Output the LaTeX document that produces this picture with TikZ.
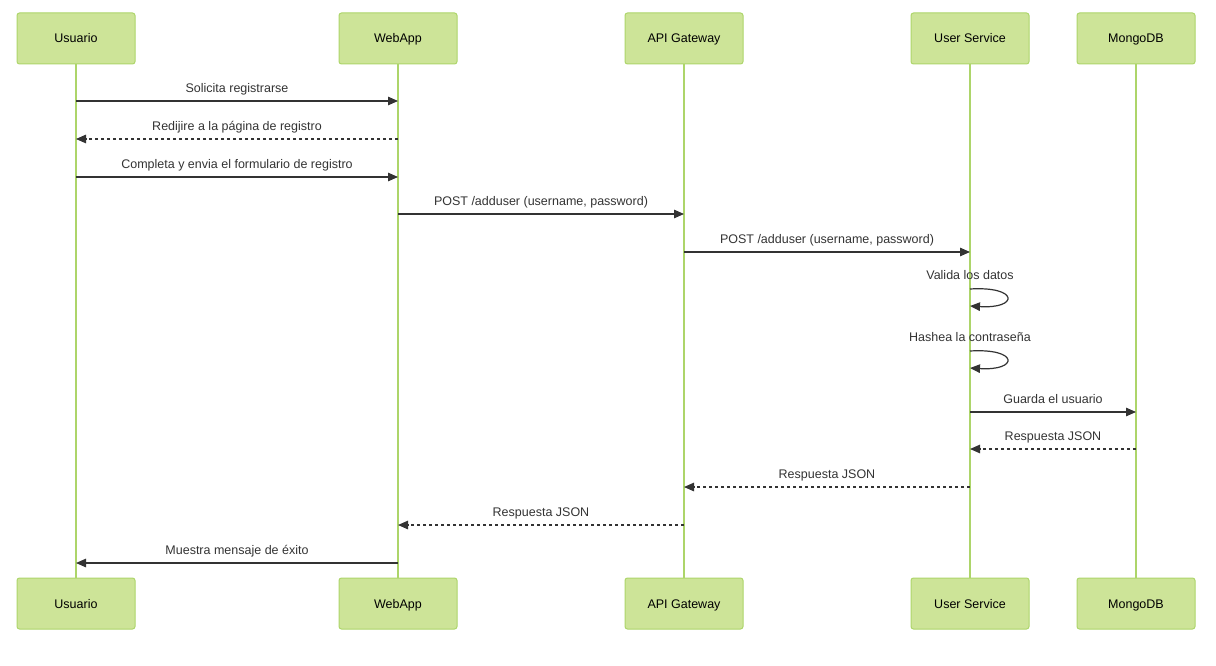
\documentclass[tikz,border=0pt]{standalone}
\usepackage{fontspec}
\setmainfont{Liberation Sans}
\usetikzlibrary{arrows.meta}
\definecolor{actfill}{HTML}{CDE498}
\definecolor{actline}{HTML}{ADD56A}
\definecolor{ink}{HTML}{333333}
\tikzset{
  actor/.style={draw=actline, fill=actfill, line width=1pt, rounded corners=2.5pt,
    minimum width=118pt, minimum height=51pt, inner sep=0pt,
    text height=9.5pt, text depth=0.5pt,
    font=\fontsize{12.5}{14}\selectfont, text=black},
  life/.style={draw=actline, line width=1.5pt},
  msg/.style={draw=ink, line width=1.2pt, -{Triangle[length=10pt,width=8.5pt]}},
  reply/.style={msg, dash pattern=on 3pt off 3pt},
  lbl/.style={font=\fontsize{12.5}{14}\selectfont, text=ink, inner sep=0pt},
  mlbl/.style={lbl, anchor=base, yshift=8.5pt}
}
\begin{document}
\begin{tikzpicture}[x=1pt,y=-1pt]
\useasboundingbox (0,0) rectangle (1216,666);
% participants
\foreach \n/\x/\t in {u/76/Usuario, w/398/WebApp, g/684/API Gateway, s/970/User Service, m/1136/MongoDB}{
  \node[actor] (\n t) at (\x,38.5) {\t};
  \node[actor] (\n b) at (\x,603.5) {\t};
  \draw[life] (\n t.south) -- (\n b.north);
}
% message rows
\foreach \k/\y in {1/101,2/139,3/177,4/214,5/252,6/412,7/449,8/487,9/525,10/563,la/289,lb/306,lc/351,ld/368}{
  \coordinate (r\k) at (0,\y);
}
\draw[msg] (ut|-r1) -- node[mlbl] {Solicita registrarse} (wt|-r1);
\draw[reply] (wt|-r2) -- node[mlbl] {Redijire a la página de registro} (ut|-r2);
\draw[msg] (ut|-r3) -- node[mlbl] {Completa y envia el formulario de registro} (wt|-r3);
\draw[msg] (wt|-r4) -- node[mlbl] {POST /adduser (username, password)} (gt|-r4);
\draw[msg] (gt|-r5) -- node[mlbl] {POST /adduser (username, password)} (st|-r5);
% self loops
\node[lbl, anchor=base] (v1) at (970,279) {Valida los datos};
\draw[msg] (st|-rla) .. controls (1019,286) and (1019,309) .. (st|-rlb);
\node[lbl, anchor=base] (v2) at (970,341) {Hashea la contraseña};
\draw[msg] (st|-rlc) .. controls (1019,348) and (1019,371) .. (st|-rld);
\draw[msg] (st|-r6) -- node[mlbl] {Guarda el usuario} (mt|-r6);
\draw[reply] (mt|-r7) -- node[mlbl] {Respuesta JSON} (st|-r7);
\draw[reply] (st|-r8) -- node[mlbl] {Respuesta JSON} (gt|-r8);
\draw[reply] (gt|-r9) -- node[mlbl] {Respuesta JSON} (wt|-r9);
\draw[msg] (wt|-r10) -- node[mlbl] {Muestra mensaje de éxito} (ut|-r10);
\end{tikzpicture}
\end{document}
